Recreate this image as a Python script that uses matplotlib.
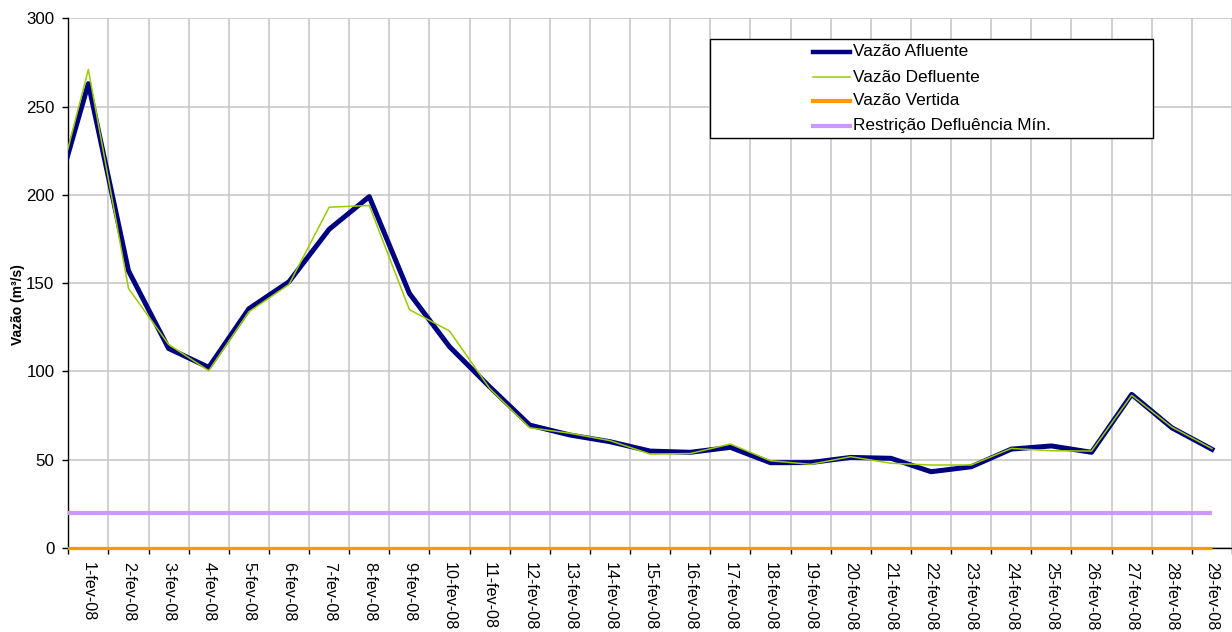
import numpy as np
import matplotlib
matplotlib.use("Agg")
import matplotlib.pyplot as plt
from matplotlib.lines import Line2D
from matplotlib.patches import Rectangle

plt.rcParams['font.family'] = ['Liberation Sans', 'DejaVu Sans']

# dados diarios (fevereiro 2008) - primeiro valor = dia anterior (31-jan), fica cortado no eixo
dias = [f"{d}-fev-08" for d in range(1, 30)]
afluente_anterior = 184
defluente_anterior = 183
afluente = [263, 157, 113, 102.3, 135.5, 150.8, 180.5, 199, 144.2, 114,
            91.3, 69.6, 64, 60.2, 54.9, 54.2, 57, 48.3, 48.4, 51.3,
            50.8, 43.2, 46, 56, 57.8, 54.2, 87, 68.1, 55.9]
defluente = [271, 147, 115.3, 100.4, 133.8, 149.3, 193, 194, 135, 122.9,
             90.4, 68.1, 65, 60.8, 53.2, 53.5, 58.9, 49.4, 47.4, 51.7,
             48, 47, 47, 56.4, 55.1, 54.9, 86.5, 68.5, 56.3]
vertida = [0] * 30
restricao = [20] * 30
yticks = [0, 50, 100, 150, 200, 250, 300]

W, H = 1232, 632
fig = plt.figure(figsize=(W / 100, H / 100), dpi=100)
ax = fig.add_axes([68.3 / W, 1 - 548 / H, 1 - 68.3 / W, (548 - 18.3) / H])

x = np.arange(-1, 29)
ax.plot(x, restricao, color='#cc99ff', lw=3.0, zorder=3, solid_capstyle='butt')
orange, = ax.plot(x, vertida, color='#ff9900', lw=2.3, zorder=6, solid_capstyle='butt')
# deixa a linha laranja aparecer inteira sobre o eixo x
orange.set_clip_path(Rectangle((0, -0.02), 1, 1.04, transform=ax.transAxes))
ax.plot(x, [afluente_anterior] + afluente, color='#000080', lw=3.6, zorder=4)
ax.plot(x, [defluente_anterior] + defluente, color='#99cc00', lw=1.1, zorder=5)

ax.set_xlim(-0.5, 28.5)
ax.set_ylim(0, 300)
ax.set_yticks(yticks)
ax.set_xticks(np.arange(29))
ax.set_xticklabels(dias, rotation=270, fontsize=11.6)
ax.set_xticks(np.arange(-0.5, 29, 1), minor=True)
ax.tick_params(axis='x', which='major', length=0, pad=10)
ax.tick_params(axis='x', which='minor', length=4, width=1, color='black')
ax.tick_params(axis='y', length=4, width=1, pad=6, labelsize=12.2)
ax.grid(True, axis='x', which='minor', color='#c8c8c8', lw=1.2)
ax.grid(True, axis='y', which='major', color='#c8c8c8', lw=1.2)
ax.set_axisbelow(True)
for s in ['top', 'right']:
    ax.spines[s].set_visible(False)
ax.spines['left'].set_linewidth(1)
ax.spines['bottom'].set_linewidth(1)
ax.spines['bottom'].set_zorder(5.5)

fig.text(18 / W, 1 - 305 / H, 'Vazão (m³/s)', rotation=90, fontsize=10,
         fontweight='bold', ha='center', va='center')

# legenda desenhada a mao (caixa larga como no original)
def fx(px):
    return px / W

def fy(py):
    return 1 - py / H

fig.patches.append(Rectangle((fx(710), fy(138)), fx(1153) - fx(710), fy(39) - fy(138),
                             transform=fig.transFigure, facecolor='white',
                             edgecolor='black', lw=1, zorder=10))
nomes = ['Vazão Afluente', 'Vazão Defluente', 'Vazão Vertida', 'Restrição Defluência Mín.']
cores = ['#000080', '#99cc00', '#ff9900', '#cc99ff']
larguras = [3.2, 1.1, 3.0, 3.0]
linhas_y = [51.7, 77.3, 100.5, 125.7]
for nome, cor, lw, yy in zip(nomes, cores, larguras, linhas_y):
    fig.lines.append(Line2D([fx(813), fx(850)], [fy(yy), fy(yy)], color=cor, lw=lw,
                            transform=fig.transFigure, zorder=11))
    fig.text(fx(853), fy(yy), nome, fontsize=12.4, va='center', ha='left', zorder=12)

fig.savefig('out.png', dpi=100)
